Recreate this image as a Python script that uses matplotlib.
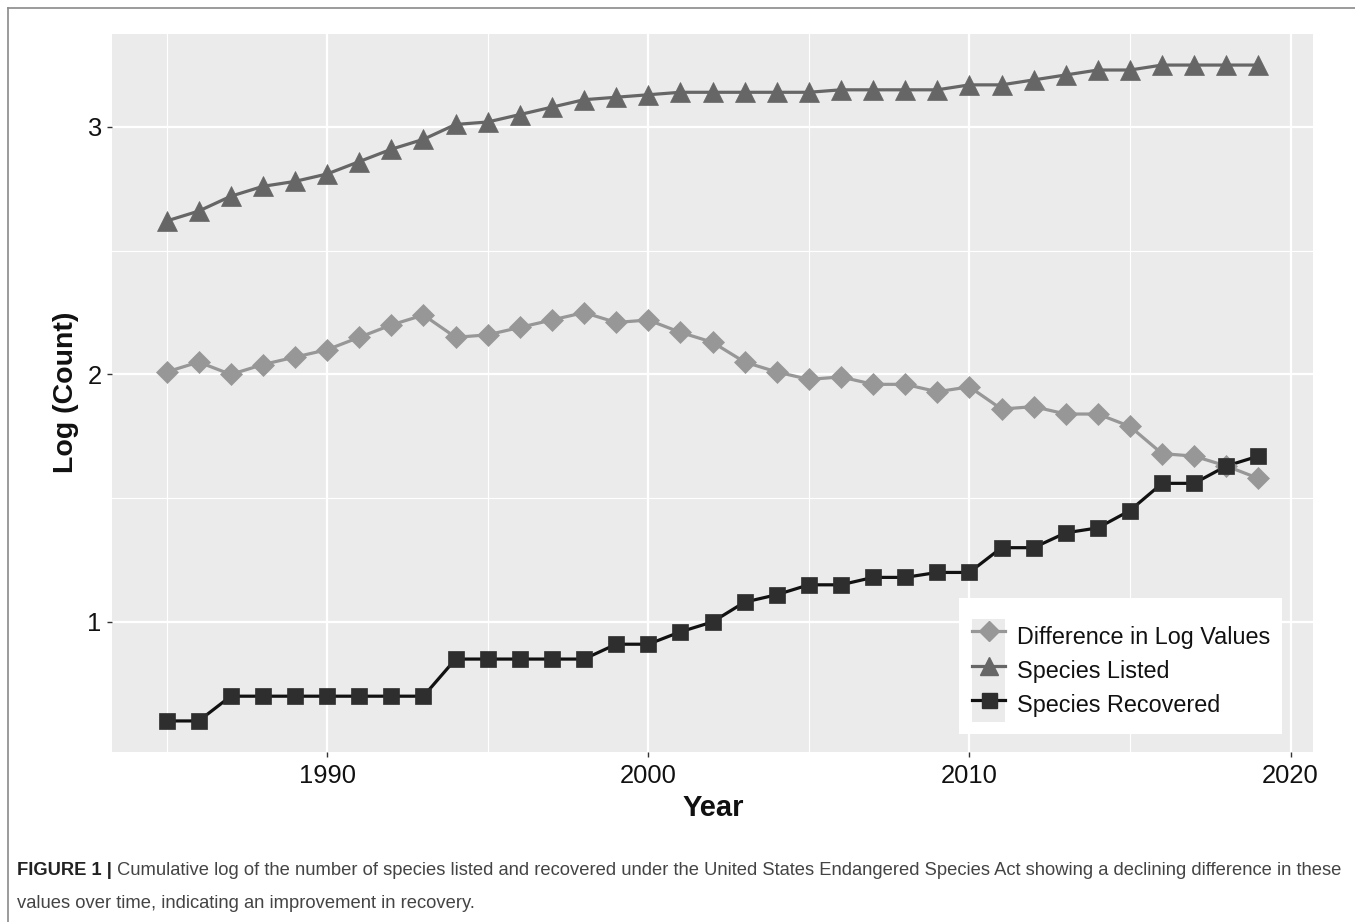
import matplotlib
matplotlib.use("Agg")
import matplotlib.pyplot as plt
from matplotlib.patches import Rectangle, Patch
from matplotlib.lines import Line2D
from matplotlib import font_manager

years = list(range(1985, 2020))

difference = [2.01, 2.05, 2.00, 2.04, 2.07, 2.10, 2.15, 2.20, 2.24, 2.15,
              2.16, 2.19, 2.22, 2.25, 2.21, 2.22, 2.17, 2.13, 2.05, 2.01,
              1.98, 1.99, 1.96, 1.96, 1.93, 1.95, 1.86, 1.87, 1.84, 1.84,
              1.79, 1.68, 1.67, 1.63, 1.58]

listed = [2.62, 2.66, 2.72, 2.76, 2.78, 2.81, 2.86, 2.91, 2.95, 3.01,
          3.02, 3.05, 3.08, 3.11, 3.12, 3.13, 3.14, 3.14, 3.14, 3.14,
          3.14, 3.15, 3.15, 3.15, 3.15, 3.17, 3.17, 3.19, 3.21, 3.23,
          3.23, 3.25, 3.25, 3.25, 3.25]

recovered = [0.60, 0.60, 0.70, 0.70, 0.70, 0.70, 0.70, 0.70, 0.70, 0.85,
             0.85, 0.85, 0.85, 0.85, 0.91, 0.91, 0.96, 1.00, 1.08, 1.11,
             1.15, 1.15, 1.18, 1.18, 1.20, 1.20, 1.30, 1.30, 1.36, 1.38,
             1.45, 1.56, 1.56, 1.63, 1.67]

series_names = ["Difference in Log Values", "Species Listed", "Species Recovered"]
series_colors = ["#979797", "#666666", "#2e2e2e"]
line_colors = ["#979797", "#666666", "#111111"]
series_markers = ["D", "^", "s"]
marker_sizes = [11, 14, 12]

x_major = [1990, 2000, 2010, 2020]
x_minor = [1985, 1995, 2005, 2015]
y_major = [1, 2, 3]
y_minor = [1.5, 2.5]

caption_bold = "FIGURE 1 |"
caption_rest = (" Cumulative log of the number of species listed and recovered under the "
                "United States Endangered Species Act showing a declining difference in these")
caption_line2 = "values over time, indicating an improvement in recovery."

W, H = 1355, 922
fig = plt.figure(figsize=(W / 100, H / 100), dpi=100)
fig.patch.set_facecolor("white")

avail = {f.name for f in font_manager.fontManager.ttflist}
main_font = "Liberation Sans" if "Liberation Sans" in avail else "DejaVu Sans"
cap_font = "Liberation Sans Narrow" if "Liberation Sans Narrow" in avail else main_font
plt.rcParams["font.family"] = [main_font, "DejaVu Sans"]

px = lambda x: x / W
py = lambda y: 1 - y / H

left, right, top, bottom = 112, 1313, 34, 752
ax = fig.add_axes([px(left), py(bottom), px(right - left), (bottom - top) / H])
ax.set_facecolor("#EBEBEB")
for s in ax.spines.values():
    s.set_visible(False)

ax.set_xlim(1983.3, 2020.7)
ax.set_ylim(0.4745, 3.3755)
ax.set_xticks(x_major)
ax.set_xticks(x_minor, minor=True)
ax.set_yticks(y_major)
ax.set_yticks(y_minor, minor=True)
ax.set_xticklabels([str(v) for v in x_major])
ax.set_yticklabels([str(v) for v in y_major])
ax.grid(which="major", color="white", linewidth=1.6, zorder=0)
ax.grid(which="minor", color="white", linewidth=0.8, zorder=0)
ax.set_axisbelow(True)
ax.tick_params(which="major", length=3.6, width=1.0, color="#333333",
               labelsize=18.4, labelcolor="#111111")
ax.tick_params(axis="x", which="major", pad=5)
ax.tick_params(axis="y", which="major", pad=4)
ax.tick_params(which="minor", length=0)

data = [difference, listed, recovered]
for vals, lc in zip(data, line_colors):
    ax.plot(years, vals, color=lc, linewidth=2.3, zorder=2, solid_capstyle="butt")
for vals, c, m, ms in zip(data, series_colors, series_markers, marker_sizes):
    ax.plot(years, vals, linestyle="none", marker=m, markersize=ms,
            markerfacecolor=c, markeredgecolor=c, markeredgewidth=0.5, zorder=3)

# legend background box
lx0, lx1, ly0, ly1 = 959, 1282, 598, 734
ax.add_patch(Rectangle(((lx0 - left) / (right - left), (bottom - ly1) / (bottom - top)),
                       (lx1 - lx0) / (right - left), (ly1 - ly0) / (bottom - top),
                       transform=ax.transAxes, facecolor="white", edgecolor="none",
                       zorder=4.5))
handles = []
for c, lc, m, ms in zip(series_colors, line_colors, series_markers, marker_sizes):
    bg = Patch(facecolor="#EBEBEB", edgecolor="none")
    ln = Line2D([0], [0], color=lc, linewidth=2.3, marker=m, markersize=ms * 0.9,
                markerfacecolor=c, markeredgecolor=c)
    handles.append((bg, ln))
leg_fs = 16.8
fs_px = leg_fs * 100 / 72
row_px = 34.3
hh = (row_px / fs_px - 0.245) / 0.65
leg = ax.legend(handles, series_names, loc="lower left",
                bbox_to_anchor=((972 - left) / (right - left), (bottom - 722) / (bottom - top)),
                frameon=False, fontsize=leg_fs, borderpad=0, borderaxespad=0,
                handlelength=33 / fs_px, handleheight=hh,
                handletextpad=12 / fs_px, labelspacing=0, numpoints=1)
for t in leg.get_texts():
    t.set_color("#111111")
leg.set_zorder(5)

fig.text(px(713), py(808), "Year", fontsize=21, fontweight="bold",
         ha="center", va="center", color="#111111")
fig.text(px(66), py(392), "Log (Count)", fontsize=20.5, fontweight="bold",
         ha="center", va="center", rotation=90, color="#111111")

# frame lines
fig.add_artist(Line2D([px(8), px(8)], [py(8), 0], color="#8a8a8a", linewidth=1.2,
                      transform=fig.transFigure))
fig.add_artist(Line2D([px(8), 1], [py(8), py(8)], color="#8a8a8a", linewidth=1.2,
                      transform=fig.transFigure))

cap_fs = 13.27
tb = fig.text(px(17), py(870), caption_bold, fontsize=cap_fs, fontweight="bold",
              family=[cap_font, "DejaVu Sans"], ha="left", va="center", color="#222222")
fig.canvas.draw()
bb = tb.get_window_extent()
fig.text(bb.x1 / W, py(870), caption_rest, fontsize=cap_fs,
         family=[cap_font, "DejaVu Sans"], ha="left", va="center", color="#444444")
fig.text(px(17), py(903), caption_line2, fontsize=cap_fs,
         family=[cap_font, "DejaVu Sans"], ha="left", va="center", color="#444444")

fig.savefig("out.png", dpi=100)
